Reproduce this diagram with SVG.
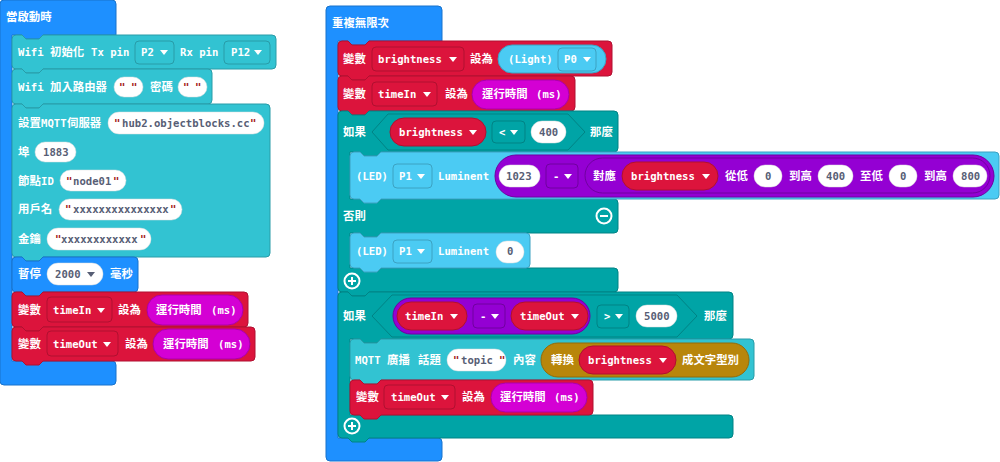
<svg xmlns="http://www.w3.org/2000/svg" width="1000" height="462" viewBox="0 0 1000 462">
<style>
.t{font-family:"DejaVu Sans Mono","Noto Sans CJK TC",monospace;font-weight:bold;font-size:10.6px;fill:#fff}
.c{font-family:"Noto Sans CJK TC","Noto Sans CJK SC",sans-serif;font-weight:bold;font-size:11.4px;fill:#fff}
.d{fill:#575E75}
.q{fill:#A31515}
.blue{fill:#1E90FF;stroke:#1873CC;stroke-width:1}
.teal{fill:#32C3D2;stroke:#289CA8;stroke-width:1}
.red{fill:#DC143C;stroke:#B01030;stroke-width:1}
.logic{fill:#00A4A6;stroke:#008385;stroke-width:1}
.lb{fill:#4BCBF3;stroke:#3CA2C2;stroke-width:1}
.pur{fill:#9400D3;stroke:#7000A0;stroke-width:1}
.mag{fill:#D400D4;stroke:#AA00AA;stroke-width:1}
.gold{fill:#B8860B;stroke:#936B09;stroke-width:1}
.wp{fill:#fff;stroke:#ddd;stroke-width:0.5}
.ar{fill:#fff}
.ard{fill:#575E75}
.ic{fill:none;stroke:#fff;stroke-width:2}
</style>
<defs>
<path id="arr" d="M0,0h8l-4,5z"/>
</defs>

<g id="on-start">
<path class="blue" d="M0,4 Q0,0 4,0 H112 Q116,0 116,4 V35 H43 l-4,4 h-13 l-4,-4 H12 V361 H112 Q116,361 116,365 V381 Q116,385 112,385 H4 Q0,385 0,381 Z"/>
<text class="c" x="6" y="21">當啟動時</text>
</g>

<g id="wifi-init">
<path class="teal" d="M12,39 Q12,35 16,35 H22 l4,4 h13 l4,-4 H272 Q276,35 276,39 V65 Q276,69 272,69 H43 l-4,4 h-13 l-4,-4 H16 Q12,69 12,65 Z"/>
<text class="t" x="18" y="56">Wifi</text><text class="c" x="50" y="56">初始化</text><text class="t" x="91" y="56">Tx pin</text>
<rect class="teal" x="135" y="41" width="39" height="23" rx="4"/><text class="t" x="141" y="56">P2</text><use href="#arr" class="ar" x="160" y="50"/>
<text class="t" x="180" y="56">Rx pin</text>
<rect class="teal" x="224" y="41" width="46" height="23" rx="4"/><text class="t" x="231" y="56">P12</text><use href="#arr" class="ar" x="254" y="50"/>
</g>

<g id="wifi-join">
<path class="teal" d="M12,73 Q12,69 16,69 H22 l4,4 h13 l4,-4 H208 Q212,69 212,73 V100 Q212,104 208,104 H43 l-4,4 h-13 l-4,-4 H16 Q12,104 12,100 Z"/>
<text class="t" x="18" y="91">Wifi</text><text class="c" x="50" y="91">加入路由器</text>
<rect class="wp" x="114" y="77" width="29" height="20" rx="10"/><text class="t q" x="119" y="91">"</text><text class="t q" x="131" y="91">"</text>
<text class="c" x="150" y="91">密碼</text>
<rect class="wp" x="178" y="77" width="29" height="20" rx="10"/><text class="t q" x="183" y="91">"</text><text class="t q" x="195" y="91">"</text>
</g>

<g id="mqtt-setup">
<path class="teal" d="M12,108 Q12,104 16,104 H22 l4,4 h13 l4,-4 H266 Q270,104 270,108 V253 Q270,257 266,257 H43 l-4,4 h-13 l-4,-4 H16 Q12,257 12,253 Z"/>
<text class="c" x="18" y="127">設置</text><text class="t" x="41" y="127">MQTT</text><text class="c" x="67" y="127">伺服器</text>
<rect class="wp" x="108" y="112" width="156" height="22" rx="11"/><text class="t q" x="114" y="127">"</text><text class="t d" x="122" y="127">hub2.objectblocks.cc</text><text class="t q" x="250" y="127">"</text>
<text class="c" x="18" y="156">埠</text>
<rect class="wp" x="35" y="142" width="41" height="20" rx="10"/><text class="t d" x="43" y="156">1883</text>
<text class="c" x="18" y="185">節點</text><text class="t" x="41" y="185">ID</text>
<rect class="wp" x="60" y="170" width="66" height="21" rx="10.5"/><text class="t q" x="66" y="185">"</text><text class="t d" x="73" y="185">node01</text><text class="t q" x="113" y="185">"</text>
<text class="c" x="18" y="213">用戶名</text>
<rect class="wp" x="59" y="199" width="123" height="21" rx="10.5"/><text class="t q" x="65" y="213">"</text><text class="t d" x="73" y="213">xxxxxxxxxxxxxxx</text><text class="t q" x="170" y="213">"</text>
<text class="c" x="18" y="243">金鑰</text>
<rect class="wp" x="47" y="228" width="104" height="22" rx="11"/><text class="t q" x="55" y="243">"</text><text class="t d" x="61" y="243">xxxxxxxxxxxx</text><text class="t q" x="140" y="243">"</text>
</g>

<g id="pause">
<path class="blue" d="M12,261 Q12,257 16,257 H22 l4,4 h13 l4,-4 H134 Q138,257 138,261 V288 Q138,292 134,292 H43 l-4,4 h-13 l-4,-4 H16 Q12,292 12,288 Z"/>
<text class="c" x="18" y="278">暫停</text>
<rect class="wp" x="47" y="263" width="56" height="22" rx="11"/><text class="t d" x="55" y="278">2000</text><use href="#arr" class="ard" x="87" y="272"/>
<text class="c" x="110" y="278">毫秒</text>
</g>

<g id="set-timein-start">
<path class="red" d="M12,296 Q12,292 16,292 H22 l4,4 h13 l4,-4 H244 Q248,292 248,296 V323 Q248,327 244,327 H43 l-4,4 h-13 l-4,-4 H16 Q12,327 12,323 Z"/>
<text class="c" x="18" y="314">變數</text>
<rect class="red" x="47" y="297" width="65" height="25" rx="4"/><text class="t" x="53" y="314">timeIn</text><use href="#arr" class="ar" x="97" y="308"/>
<text class="c" x="118" y="314">設為</text>
<rect class="mag" x="147" y="295" width="96" height="30" rx="15"/><text class="c" x="156" y="314">運行時間</text><text class="t" x="211" y="314">(ms)</text>
</g>

<g id="set-timeout-start">
<path class="red" d="M12,331 Q12,327 16,327 H22 l4,4 h13 l4,-4 H251 Q255,327 255,331 V357 Q255,361 251,361 H43 l-4,4 h-13 l-4,-4 H16 Q12,361 12,357 Z"/>
<text class="c" x="18" y="348">變數</text>
<rect class="red" x="47" y="331" width="71" height="25" rx="4"/><text class="t" x="53" y="348">timeOut</text><use href="#arr" class="ar" x="103" y="342"/>
<text class="c" x="125" y="348">設為</text>
<rect class="mag" x="153" y="329" width="97" height="30" rx="15"/><text class="c" x="163" y="348">運行時間</text><text class="t" x="218" y="348">(ms)</text>
</g>

<g id="forever">
<path class="blue" d="M326,10 Q326,6 330,6 H438 Q442,6 442,10 V41 H369 l-4,4 h-13 l-4,-4 H338 V438 H438 Q442,438 442,442 V457 Q442,461 438,461 H330 Q326,461 326,457 Z"/>
<text class="c" x="332" y="27">重複無限次</text>
</g>

<g id="set-brightness">
<path class="red" d="M338,45 Q338,41 342,41 H348 l4,4 h13 l4,-4 H608 Q612,41 612,45 V72 Q612,76 608,76 H369 l-4,4 h-13 l-4,-4 H342 Q338,76 338,72 Z"/>
<text class="c" x="343" y="63">變數</text>
<rect class="red" x="372" y="47" width="92" height="24" rx="4"/><text class="t" x="378" y="63">brightness</text><use href="#arr" class="ar" x="449" y="57"/>
<text class="c" x="470" y="63">設為</text>
<rect class="lb" x="498" y="45" width="108" height="28" rx="14"/><text class="t" x="508" y="63">(Light)</text>
<rect class="lb" x="558" y="48" width="38" height="23" rx="4"/><text class="t" x="564" y="63">P0</text><use href="#arr" class="ar" x="583" y="57"/>
</g>

<g id="set-timein-loop">
<path class="red" d="M338,80 Q338,76 342,76 H348 l4,4 h13 l4,-4 H571 Q575,76 575,80 V107 Q575,111 571,111 H369 l-4,4 h-13 l-4,-4 H342 Q338,111 338,107 Z"/>
<text class="c" x="343" y="98">變數</text>
<rect class="red" x="372" y="82" width="65" height="24" rx="4"/><text class="t" x="378" y="98">timeIn</text><use href="#arr" class="ar" x="423" y="92"/>
<text class="c" x="445" y="98">設為</text>
<rect class="mag" x="472" y="80" width="97" height="29" rx="14.5"/><text class="c" x="482" y="98">運行時間</text><text class="t" x="536" y="98">(ms)</text>
</g>

<g id="if-brightness">
<path class="logic" d="M338,115 Q338,111 342,111 H348 l4,4 h13 l4,-4 H614 Q618,111 618,115 V148 Q618,152 614,152 H381 l-4,4 h-13 l-4,-4 H350 V199 H614 Q618,199 618,203 V229 Q618,233 614,233 H381 l-4,4 h-13 l-4,-4 H350 V268 H614 Q618,268 618,272 V288 Q618,292 614,292 H369 l-4,4 h-13 l-4,-4 H342 Q338,292 338,288 Z"/>
<text class="c" x="343" y="136">如果</text>
<polygon class="logic" points="372,132 388,114 568,114 585,132 568,150 388,150"/>
<rect class="red" x="390" y="118" width="96" height="28" rx="14"/><text class="t" x="399" y="136">brightness</text><use href="#arr" class="ar" x="469" y="130"/>
<rect class="logic" x="492" y="121" width="33" height="22" rx="4"/><text class="t" x="499" y="136">&lt;</text><use href="#arr" class="ar" x="510" y="130"/>
<rect class="wp" x="531" y="121" width="35" height="22" rx="11"/><text class="t d" x="539" y="136">400</text>
<text class="c" x="590" y="136">那麼</text>
<text class="c" x="343" y="220">否則</text>
<circle class="ic" cx="604" cy="216" r="7.5"/><path class="ic" d="M600,216 H608"/>
<circle class="ic" cx="352" cy="281" r="7.5"/><path class="ic" d="M348,281 H356 M352,277 V285"/>
</g>

<g id="led-map">
<path class="lb" d="M350,156 Q350,152 354,152 H360 l4,4 h13 l4,-4 H995 Q999,152 999,156 V195 Q999,199 995,199 H381 l-4,4 h-13 l-4,-4 H354 Q350,199 350,195 Z"/>
<text class="t" x="356" y="180">(LED)</text>
<rect class="lb" x="393" y="164" width="39" height="24" rx="4"/><text class="t" x="399" y="180">P1</text><use href="#arr" class="ar" x="417" y="174"/>
<text class="t" x="438" y="180">Luminent</text>
<rect class="pur" x="495" y="155" width="499" height="42" rx="21"/>
<rect class="wp" x="499" y="165" width="41" height="22" rx="11"/><text class="t d" x="506" y="180">1023</text>
<rect class="pur" x="546" y="164" width="32" height="24" rx="4"/><text class="t" x="553" y="180">-</text><use href="#arr" class="ar" x="564" y="174"/>
<rect class="pur" x="585" y="158" width="405" height="35" rx="17.5"/>
<text class="c" x="593" y="180">對應</text>
<rect class="red" x="622" y="162" width="96" height="28" rx="14"/><text class="t" x="631" y="180">brightness</text><use href="#arr" class="ar" x="702" y="174"/>
<text class="c" x="725" y="180">從低</text>
<rect class="wp" x="754" y="165" width="28" height="22" rx="11"/><text class="t d" x="765" y="180">0</text>
<text class="c" x="789" y="180">到高</text>
<rect class="wp" x="818" y="165" width="35" height="22" rx="11"/><text class="t d" x="826" y="180">400</text>
<text class="c" x="860" y="180">至低</text>
<rect class="wp" x="889" y="165" width="28" height="22" rx="11"/><text class="t d" x="900" y="180">0</text>
<text class="c" x="924" y="180">到高</text>
<rect class="wp" x="953" y="165" width="34" height="22" rx="11"/><text class="t d" x="961" y="180">800</text>
</g>

<g id="led-zero">
<path class="lb" d="M350,237 Q350,233 354,233 H360 l4,4 h13 l4,-4 H526 Q530,233 530,237 V264 Q530,268 526,268 H381 l-4,4 h-13 l-4,-4 H354 Q350,268 350,264 Z"/>
<text class="t" x="356" y="255">(LED)</text>
<rect class="lb" x="393" y="240" width="39" height="23" rx="4"/><text class="t" x="399" y="255">P1</text><use href="#arr" class="ar" x="417" y="249"/>
<text class="t" x="438" y="255">Luminent</text>
<rect class="wp" x="496" y="241" width="28" height="22" rx="11"/><text class="t d" x="507" y="255">0</text>
</g>

<g id="if-time">
<path class="logic" d="M338,296 Q338,292 342,292 H348 l4,4 h13 l4,-4 H729 Q733,292 733,296 V335 Q733,339 729,339 H381 l-4,4 h-13 l-4,-4 H350 V415 H729 Q733,415 733,419 V434 Q733,438 729,438 H369 l-4,4 h-13 l-4,-4 H342 Q338,438 338,434 Z"/>
<text class="c" x="343" y="320">如果</text>
<polygon class="logic" points="372,316 392,295 677,295 697,316 677,337 392,337"/>
<rect class="pur" x="393" y="298" width="197" height="36" rx="18"/>
<rect class="red" x="397" y="302" width="70" height="28" rx="14"/><text class="t" x="405" y="320">timeIn</text><use href="#arr" class="ar" x="450" y="314"/>
<rect class="pur" x="473" y="304" width="32" height="24" rx="4"/><text class="t" x="480" y="320">-</text><use href="#arr" class="ar" x="491" y="314"/>
<rect class="red" x="511" y="302" width="77" height="28" rx="14"/><text class="t" x="520" y="320">timeOut</text><use href="#arr" class="ar" x="571" y="314"/>
<rect class="logic" x="597" y="305" width="32" height="23" rx="4"/><text class="t" x="604" y="320">&gt;</text><use href="#arr" class="ar" x="615" y="314"/>
<rect class="wp" x="636" y="305" width="41" height="22" rx="11"/><text class="t d" x="644" y="320">5000</text>
<text class="c" x="704" y="320">那麼</text>
<circle class="ic" cx="352" cy="426" r="7.5"/><path class="ic" d="M348,426 H356 M352,422 V430"/>
</g>

<g id="mqtt-publish">
<path class="teal" d="M350,343 Q350,339 354,339 H360 l4,4 h13 l4,-4 H750 Q754,339 754,343 V376 Q754,380 750,380 H381 l-4,4 h-13 l-4,-4 H354 Q350,380 350,376 Z"/>
<text class="t" x="355" y="364">MQTT</text><text class="c" x="387" y="364">廣播</text><text class="c" x="418" y="364">話題</text>
<rect class="wp" x="447" y="349" width="59" height="22" rx="11"/><text class="t q" x="453" y="364">"</text><text class="t d" x="461" y="364">topic</text><text class="t q" x="499" y="364">"</text>
<text class="c" x="513" y="364">內容</text>
<rect class="gold" x="541" y="343" width="208" height="34" rx="17"/>
<text class="c" x="551" y="364">轉換</text>
<rect class="red" x="579" y="346" width="97" height="28" rx="14"/><text class="t" x="588" y="364">brightness</text><use href="#arr" class="ar" x="659" y="358"/>
<text class="c" x="682" y="364">成文字型別</text>
</g>

<g id="set-timeout-loop">
<path class="red" d="M350,384 Q350,380 354,380 H360 l4,4 h13 l4,-4 H589 Q593,380 593,384 V411 Q593,415 589,415 H381 l-4,4 h-13 l-4,-4 H354 Q350,415 350,411 Z"/>
<text class="c" x="356" y="401">變數</text>
<rect class="red" x="384" y="385" width="71" height="24" rx="4"/><text class="t" x="391" y="401">timeOut</text><use href="#arr" class="ar" x="441" y="395"/>
<text class="c" x="462" y="401">設為</text>
<rect class="mag" x="491" y="383" width="96" height="29" rx="14.5"/><text class="c" x="500" y="401">運行時間</text><text class="t" x="554" y="401">(ms)</text>
</g>

<g id="connectors"/>
</svg>
